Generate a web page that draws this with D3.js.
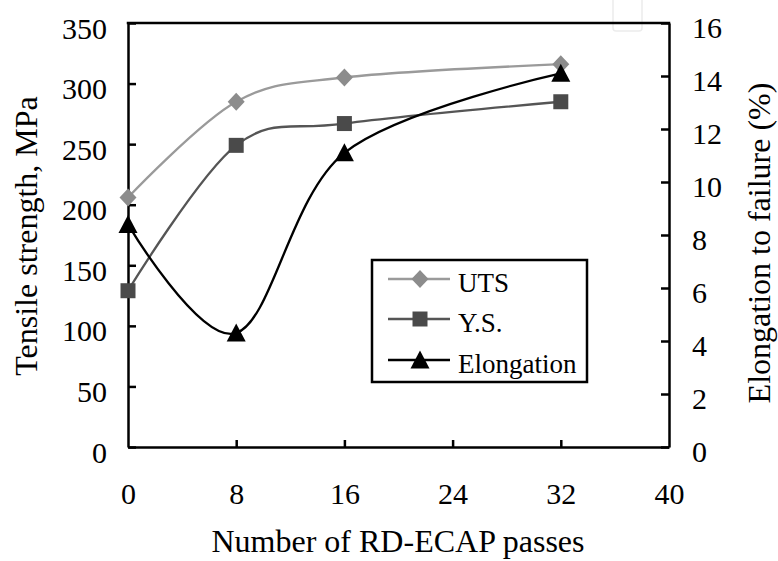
<!DOCTYPE html>
<html>
<head>
<meta charset="utf-8">
<script src="https://cdn.jsdelivr.net/npm/d3@7"></script>
<style>
  html, body { margin: 0; padding: 0; background: #fff; }
  svg { display: block; }
  svg text { font-family: "Liberation Serif", "DejaVu Serif", "Noto Serif", Times, serif; }
</style>
</head>
<body>
<svg id="chart" width="778" height="561"></svg>
<script>
// Number of RD-ECAP passes
const passes = [0, 8, 16, 32];
// Ultimate tensile strength, MPa
const utsValues = [206, 285, 305, 316];
// Yield strength, MPa
const ysValues = [129, 249, 267, 285];
// Elongation to failure, %
const elongValues = [8.4, 4.3, 11.1, 14.1];

const xTicks = [0, 8, 16, 24, 32, 40];
const leftTicks = [0, 50, 100, 150, 200, 250, 300, 350];
const rightTicks = [0, 2, 4, 6, 8, 10, 12, 14, 16];

const serif = '"Liberation Serif", "DejaVu Serif", "Noto Serif", Times, serif';

const svg = d3.select("#chart");

const plot = { left: 128, right: 669, top: 23, bottom: 447 };

const x = d3.scaleLinear().domain([0, 40]).range([plot.left, plot.right]);
const yL = d3.scaleLinear().domain([0, 350]).range([plot.bottom, plot.top]);
const yR = d3.scaleLinear().domain([0, 16]).range([plot.bottom, plot.top]);

// faint box in the top-right corner
svg.append("rect")
  .attr("x", 613).attr("y", -6).attr("width", 29).attr("height", 37)
  .attr("rx", 3)
  .attr("fill", "none").attr("stroke", "#ececec").attr("stroke-width", 1.5);

const tickFont = 30;
const axisW = 2.5;

function styleAxis(g) {
  g.attr("font-family", serif);
  g.selectAll(".domain").attr("stroke", "#000").attr("stroke-width", axisW);
  g.selectAll(".tick line").attr("stroke", "#000").attr("stroke-width", axisW);
  g.selectAll(".tick text")
    .attr("fill", "#000")
    .attr("font-family", serif)
    .attr("font-size", tickFont);
}

// left axis
const gL = svg.append("g")
  .attr("transform", `translate(${plot.left},0)`)
  .call(d3.axisLeft(yL).tickValues(leftTicks).tickSizeInner(-8).tickSizeOuter(0).tickPadding(21));
styleAxis(gL);
gL.selectAll(".tick text").attr("dy", 15);

// right axis
const gR = svg.append("g")
  .attr("transform", `translate(${plot.right},0)`)
  .call(d3.axisRight(yR).tickValues(rightTicks).tickSizeInner(-8).tickSizeOuter(0).tickPadding(23));
styleAxis(gR);
gR.selectAll(".tick text").attr("dy", 14);

// bottom axis
const gB = svg.append("g")
  .attr("transform", `translate(0,${plot.bottom})`)
  .call(d3.axisBottom(x).tickValues(xTicks).tickFormat(d3.format("d")).tickSizeInner(-7).tickSizeOuter(0));
styleAxis(gB);
gB.selectAll(".tick text").attr("y", 57).attr("dy", 0);
gB.selectAll(".tick").filter(d => d === 0 || d === 40).select("line").remove();

// top border
svg.append("line")
  .attr("x1", plot.left - axisW / 2).attr("x2", plot.right + axisW / 2)
  .attr("y1", plot.top).attr("y2", plot.top)
  .attr("stroke", "#000").attr("stroke-width", axisW);

// axis titles
const titleFont = 32;
svg.append("text")
  .attr("transform", `translate(37,236) rotate(-90)`)
  .attr("text-anchor", "middle")
  .attr("font-family", serif)
  .attr("font-size", titleFont)
  .text("Tensile strength, MPa");

svg.append("text")
  .attr("transform", `translate(770,243) rotate(-90)`)
  .attr("text-anchor", "middle")
  .attr("font-family", serif)
  .attr("font-size", titleFont)
  .text("Elongation to failure (%)");

svg.append("text")
  .attr("x", 398).attr("y", 552)
  .attr("text-anchor", "middle")
  .attr("font-family", serif)
  .attr("font-size", titleFont)
  .text("Number of RD-ECAP passes");

// series
const series = [
  { name: "UTS", values: utsValues, y: yL, line: "#9a9a9a", fill: "#8c8c8c", shape: "diamond" },
  { name: "Y.S.", values: ysValues, y: yL, line: "#555555", fill: "#4a4a4a", shape: "square" },
  { name: "Elongation", values: elongValues, y: yR, line: "#000000", fill: "#000000", shape: "triangle" }
];

function markerPath(shape) {
  if (shape === "diamond") return "M0,-9L8.5,0L0,9L-8.5,0Z";
  if (shape === "square") return "M-7.5,-7.5H7.5V7.5H-7.5Z";
  return "M0,-9.5L9.5,8.5H-9.5Z";
}

series.forEach(s => {
  const pts = passes.map((p, i) => [x(p), s.y(s.values[i])]);
  const line = d3.line().curve(d3.curveCardinal.tension(0));
  svg.append("path")
    .attr("d", line(pts))
    .attr("fill", "none")
    .attr("stroke", s.line)
    .attr("stroke-width", 2.3)
    .attr("stroke-linejoin", "round");
});

series.forEach(s => {
  svg.append("g").selectAll("path")
    .data(passes.map((p, i) => [x(p), s.y(s.values[i])]))
    .join("path")
    .attr("transform", d => `translate(${d[0]},${d[1]})`)
    .attr("d", markerPath(s.shape))
    .attr("fill", s.fill);
});

// legend
const legend = svg.append("g");
legend.append("rect")
  .attr("x", 372).attr("y", 260).attr("width", 215).attr("height", 122)
  .attr("fill", "#fff").attr("stroke", "#000").attr("stroke-width", 2.5);

const rowY = [279, 319, 360];
series.forEach((s, i) => {
  const g = legend.append("g").attr("transform", `translate(0,${rowY[i]})`);
  g.append("line")
    .attr("x1", 388).attr("x2", 450).attr("y1", 0).attr("y2", 0)
    .attr("stroke", s.line).attr("stroke-width", 2.3);
  g.append("path")
    .attr("transform", "translate(420,0)")
    .attr("d", markerPath(s.shape))
    .attr("fill", s.fill);
  g.append("text")
    .attr("x", 458).attr("y", 13)
    .attr("font-family", serif)
    .attr("font-size", 27)
    .text(s.name);
});
</script>
</body>
</html>
